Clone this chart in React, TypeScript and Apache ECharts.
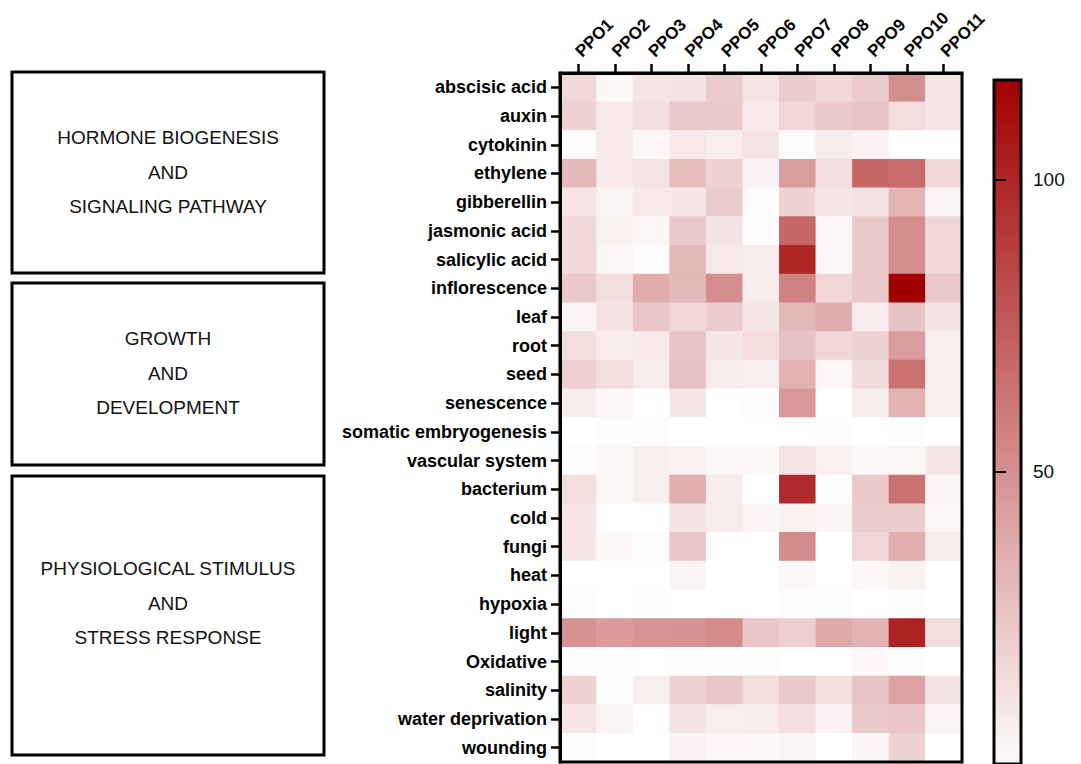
import React, { useEffect, useRef } from "react";
import * as echarts from "echarts";

const columns = ["PPO1", "PPO2", "PPO3", "PPO4", "PPO5", "PPO6", "PPO7", "PPO8", "PPO9", "PPO10", "PPO11"];
const rows = [
  "abscisic acid", "auxin", "cytokinin", "ethylene", "gibberellin", "jasmonic acid", "salicylic acid",
  "inflorescence", "leaf", "root", "seed", "senescence", "somatic embryogenesis", "vascular system",
  "bacterium", "cold", "fungi", "heat", "hypoxia", "light", "Oxidative", "salinity", "water deprivation", "wounding",
];

const abscisicAcid = [18, 3, 12, 13, 24, 12, 23, 18, 24, 52, 12];
const auxin = [20, 10, 14, 25, 25, 10, 19, 25, 27, 16, 12];
const cytokinin = [2, 10, 4, 10, 8, 12, 2, 9, 6, 0, 0];
const ethylene = [32, 10, 12, 30, 20, 6, 45, 14, 70, 68, 18];
const gibberellin = [12, 5, 10, 11, 23, 2, 20, 11, 13, 34, 5];
const jasmonicAcid = [18, 7, 4, 25, 13, 2, 70, 4, 25, 52, 18];
const salicylicAcid = [18, 4, 1, 32, 10, 9, 100, 4, 25, 52, 18];
const inflorescence = [25, 15, 38, 32, 52, 9, 58, 19, 25, 117, 25];
const leaf = [5, 13, 26, 18, 23, 11, 32, 38, 9, 28, 13];
const root = [15, 9, 10, 27, 11, 16, 28, 19, 21, 45, 8];
const seed = [22, 15, 9, 28, 9, 8, 35, 4, 17, 65, 8];
const senescence = [9, 4, 0, 12, 0, 2, 48, 0, 9, 36, 8];
const somaticEmbryogenesis = [0, 1, 2, 0, 0, 0, 0, 2, 0, 1, 0];
const vascularSystem = [2, 3, 8, 7, 4, 3, 12, 7, 3, 4, 12];
const bacterium = [15, 3, 8, 37, 9, 0, 97, 1, 25, 65, 5];
const cold = [12, 0, 0, 13, 9, 5, 7, 5, 23, 23, 4];
const fungi = [12, 3, 2, 26, 0, 0, 53, 0, 19, 37, 9];
const heat = [0, 0, 0, 5, 0, 0, 3, 0, 4, 7, 0];
const hypoxia = [1, 0, 1, 0, 0, 0, 2, 1, 0, 2, 0];
const light = [50, 46, 49, 50, 53, 26, 22, 39, 35, 102, 16];
const oxidative = [2, 1, 0, 1, 1, 1, 0, 0, 3, 2, 0];
const salinity = [20, 1, 8, 20, 26, 16, 25, 15, 27, 42, 13];
const waterDeprivation = [12, 5, 0, 13, 8, 9, 14, 6, 25, 26, 5];
const wounding = [2, 0, 0, 6, 4, 3, 5, 0, 5, 20, 0];

const matrix = [
  abscisicAcid, auxin, cytokinin, ethylene, gibberellin, jasmonicAcid, salicylicAcid,
  inflorescence, leaf, root, seed, senescence, somaticEmbryogenesis, vascularSystem,
  bacterium, cold, fungi, heat, hypoxia, light, oxidative, salinity, waterDeprivation, wounding,
];

const colorMin = 0;
const colorMax = 117;
const colorTicks = [50, 100];

const groupLabels = [
  ["HORMONE BIOGENESIS", "AND", "SIGNALING PATHWAY"],
  ["GROWTH", "AND", "DEVELOPMENT"],
  ["PHYSIOLOGICAL STIMULUS", "AND", "STRESS RESPONSE"],
];

const FONT = "'Liberation Sans', Arial, Helvetica, sans-serif";

export default function App() {
  const ref = useRef<HTMLDivElement>(null);
  useEffect(() => {
    if (!ref.current) return;
    const chart = echarts.init(ref.current, undefined, { renderer: "svg" });
    const data: [number, number, number][] = [];
    matrix.forEach((r, yi) => r.forEach((v, xi) => data.push([xi, yi, v])));

    const boxes = [
      { x: 12, y: 72, w: 312, h: 201, cy: 172 },
      { x: 12, y: 283, w: 312, h: 182, cy: 373 },
      { x: 12, y: 476, w: 312, h: 279, cy: 603 },
    ];
    const graphics: any[] = [];
    boxes.forEach((b, i) => {
      graphics.push({
        type: "rect",
        shape: { x: b.x, y: b.y, width: b.w, height: b.h },
        style: { fill: "none", stroke: "#000", lineWidth: 3 },
        silent: true,
      });
      graphics.push({
        type: "text",
        x: b.x + b.w / 2,
        y: b.cy,
        style: {
          text: groupLabels[i].join("\n"),
          fill: "#111",
          fontSize: 19,
          fontFamily: FONT,
          align: "center",
          verticalAlign: "middle",
          lineHeight: 34.5,
        },
        silent: true,
      });
    });

    const tickLen = 6;

    chart.setOption({
      animation: false,
      backgroundColor: "#fff",
      graphic: graphics,
      grid: [
        { left: 560, top: 73, width: 402, height: 689, show: true, borderColor: "#000", borderWidth: 3, backgroundColor: "transparent", z: 5 },
        { left: 994, top: 80, width: 27, height: 695, show: true, borderColor: "#000", borderWidth: 3, backgroundColor: "transparent", z: 5 },
      ],
      xAxis: [
        {
          type: "category",
          gridIndex: 0,
          position: "top",
          data: columns,
          axisLine: { show: true, lineStyle: { color: "#000", width: 3 } },
          axisTick: { show: true, alignWithLabel: true, interval: 0, length: 9, lineStyle: { color: "#000", width: 2.5 } },
          axisLabel: { rotate: -45, color: "#000", fontWeight: "bold", fontSize: 17, fontFamily: FONT, margin: 19, interval: 0 },
          splitLine: { show: false },
          z: 6,
        },
        { type: "value", gridIndex: 1, show: false, min: 0, max: 1 },
      ],
      yAxis: [
        {
          type: "category",
          gridIndex: 0,
          inverse: true,
          data: rows,
          axisLine: { show: true, lineStyle: { color: "#000", width: 3 } },
          axisTick: { show: true, alignWithLabel: true, interval: 0, length: 9, lineStyle: { color: "#000", width: 2.5 } },
          axisLabel: { color: "#000", fontWeight: "bold", fontSize: 18, fontFamily: FONT, margin: 13, interval: 0 },
          splitLine: { show: false },
          z: 6,
        },
        {
          type: "value",
          gridIndex: 1,
          position: "right",
          offset: -tickLen,
          min: colorMin,
          max: colorMax,
          interval: 50,
          axisLine: { show: false },
          axisTick: { show: true, length: tickLen, lineStyle: { color: "#000", width: 2 } },
          axisLabel: {
            color: "#111",
            fontSize: 19,
            fontFamily: FONT,
            margin: 12 + tickLen,
            formatter: (v: number) => (colorTicks.includes(v) ? String(v) : ""),
          },
          splitLine: { show: false },
          z: 6,
        },
        {
          type: "value",
          gridIndex: 1,
          position: "left",
          offset: -tickLen,
          min: colorMin,
          max: colorMax,
          interval: 50,
          axisLine: { show: false },
          axisTick: { show: true, length: tickLen, lineStyle: { color: "#000", width: 2 } },
          axisLabel: { show: false },
          splitLine: { show: false },
          z: 6,
        },
      ],
      visualMap: {
        type: "continuous",
        min: colorMin,
        max: colorMax,
        calculable: false,
        show: true,
        orient: "vertical",
        left: 994,
        top: 80,
        itemWidth: 27,
        itemHeight: 695,
        padding: 0,
        text: null,
        showLabel: false,
        seriesIndex: 0,
        inRange: { color: ["#ffffff", "#a00000"] },
        z: 1,
        hoverLink: false,
      },
      series: [
        {
          type: "heatmap",
          xAxisIndex: 0,
          yAxisIndex: 0,
          data,
          itemStyle: { borderWidth: 0 },
          emphasis: { disabled: true },
          z: 2,
        },
      ],
    });
    return () => chart.dispose();
  }, []);
  return (
    <div
      ref={ref}
      style={{ position: "fixed", left: 0, top: 0, width: 1081, height: 764, background: "#fff" }}
    />
  );
}
